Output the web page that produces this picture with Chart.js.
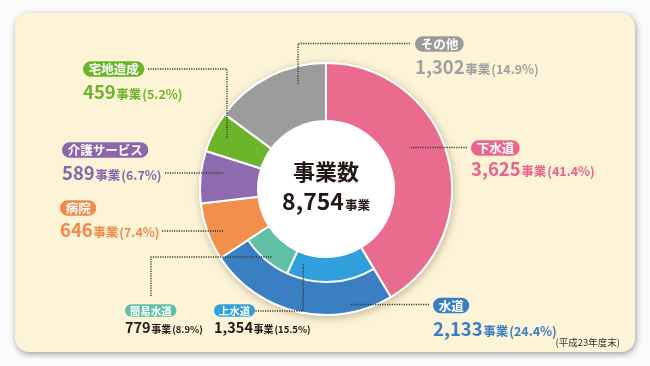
<!DOCTYPE html>
<html><head><meta charset="utf-8">
<script src="https://cdn.jsdelivr.net/npm/chart.js@4/dist/chart.umd.min.js"></script>
<style>
html,body{margin:0;padding:0;background:#fbfbfb;width:650px;height:366px;overflow:hidden;}
#panel{position:absolute;left:15px;top:13px;width:620px;height:339px;background:#fdf4d8;border-radius:14px;box-shadow:1px 2px 6px rgba(0,0,0,0.38);}
#wrap{position:absolute;left:0;top:0;width:650px;height:366px;}
</style></head><body>
<div id="panel"></div>
<div id="wrap"><canvas id="c" width="650" height="366"></canvas></div>
<script>
// ---- data ----
const categories = ['下水道', '水道', '病院', '介護サービス', '宅地造成', 'その他'];
const values = [3625, 2133, 646, 589, 459, 1302];
const waterCategories = ['上水道', '簡易水道'];
const waterValues = [1354, 779];
const centerTitle = '事業数';
const unitLabel = '事業';
const footnote = '(平成23年度末)';

// ---- styles ----
const outerColors = ['#e96c8e', '#3b7fc3', '#f0904b', '#8d6bae', '#6cb52b', '#9c9c9c'];
const waterColors = ['#2fa0dc', '#5fc0a6'];
const pillColors = ['#e9658b', '#3a7ec4', '#ef8a4a', '#8b67aa', '#6cb42a', '#9a9a9a'];
const valueColors = ['#e8628a', '#3a7ec4', '#ef8a47', '#8a65a9', '#6cb42a', '#a0a0a0'];
const FONT = '"Noto Sans CJK JP","Noto Sans",sans-serif';

const total = values.reduce((a, b) => a + b, 0);
const innerData = [values[0], ...waterValues, ...values.slice(2)];
const innerColors = ['rgba(0,0,0,0)', ...waterColors, ...values.slice(2).map(() => 'rgba(0,0,0,0)')];
const innerBorders = [0, ...waterValues.map(() => 2), ...values.slice(2).map(() => 0)];

// label layout: ring 0 = outer dataset, ring 1 = inner dataset
const labelLayout = [
  {ring: 0, idx: 0, name: categories[0], value: values[0], pill: pillColors[0], color: valueColors[0], px: 471, py: 148, vy: 169, big: true, lead: {x: 467, y: 147.5, type: 'h', t: 0.425, r: 94}},
  {ring: 0, idx: 1, name: categories[1], value: values[1], pill: pillColors[1], color: valueColors[1], px: 433, py: 305.5, vy: 329, big: true, lead: {x: 429, y: 304.5, type: 'h', t: 0.218, r: 117}},
  {ring: 0, idx: 2, name: categories[2], value: values[2], pill: pillColors[2], color: valueColors[2], px: 60, py: 208, vy: 230, big: true, lead: {x: 162, y: 231, type: 'h', t: 0.41, r: 111}},
  {ring: 0, idx: 3, name: categories[3], value: values[3], pill: pillColors[3], color: valueColors[3], px: 62, py: 150, vy: 173, big: true, lead: {x: 165, y: 173, type: 'h', t: 0.64, r: 104}},
  {ring: 0, idx: 4, name: categories[4], value: values[4], pill: pillColors[4], color: valueColors[4], px: 83, py: 69, vy: 91.5, big: true, lead: {x: 148, y: 69, type: 'hv', t: 0.49, r: 111}},
  {ring: 0, idx: 5, name: categories[5], value: values[5], pill: pillColors[5], color: valueColors[5], px: 415, py: 44, vy: 66.5, big: true, lead: {x: 410, y: 43.5, type: 'hv', t: 0.72, r: 108}},
  {ring: 1, idx: 1, name: waterCategories[0], value: waterValues[0], pill: waterColors[0], color: '#231815', px: 214, py: 310.5, vy: 327, big: false, lead: {x: 253, y: 311, type: 'hv', t: 0.86, r: 78}},
  {ring: 1, idx: 2, name: waterCategories[1], value: waterValues[1], pill: waterColors[1], color: '#231815', px: 125, py: 310.5, vy: 327, big: false, lead: {x: 151, y: 296, type: 'vh', t: 0.43, r: 87}}
];

function font(size, w) { return (w || 700) + ' ' + size + 'px ' + FONT; }
function fmt(n) { return n.toLocaleString('en-US'); }
function pct(n) { return (n / total * 100).toFixed(1); }

function roundRect(ctx, x, y, w, h, r) {
  ctx.beginPath();
  ctx.moveTo(x + r, y);
  ctx.lineTo(x + w - r, y);
  ctx.arc(x + w - r, y + r, r, -Math.PI / 2, Math.PI / 2);
  ctx.lineTo(x + r, y + h);
  ctx.arc(x + r, y + r, r, Math.PI / 2, Math.PI * 1.5);
  ctx.closePath();
}

function drawPill(ctx, x, cy, text, size, h, color) {
  ctx.font = font(size);
  const pad = size * 0.45;
  const w = ctx.measureText(text).width + pad * 2;
  ctx.fillStyle = color;
  roundRect(ctx, x, cy - h / 2, w, h, h / 2);
  ctx.fill();
  ctx.fillStyle = '#fff';
  ctx.textAlign = 'left';
  ctx.textBaseline = 'middle';
  ctx.fillText(text, x + pad, cy + 0.5);
  return w;
}

function drawRuns(ctx, x, base, runs) {
  ctx.textAlign = 'left';
  ctx.textBaseline = 'alphabetic';
  for (const r of runs) {
    x += r.dx || 0;
    ctx.font = font(r.size);
    ctx.fillStyle = r.color;
    ctx.fillText(r.text, x, base);
    x += ctx.measureText(r.text).width;
  }
  return x;
}

const donutShadow = {
  id: 'donutShadow',
  beforeDatasetsDraw(chart) {
    const arc = chart.getDatasetMeta(0).data[0];
    if (!arc) return;
    const ctx = chart.ctx;
    ctx.save();
    ctx.shadowColor = 'rgba(80,60,20,0.35)';
    ctx.shadowBlur = 8;
    ctx.shadowOffsetX = 1;
    ctx.shadowOffsetY = 2;
    ctx.fillStyle = '#ffffff';
    ctx.beginPath();
    ctx.arc(arc.x, arc.y, arc.outerRadius + 1, 0, Math.PI * 2);
    ctx.fill();
    ctx.restore();
  }
};

const annotations = {
  id: 'annotations',
  afterDatasetsDraw(chart) {
    const ctx = chart.ctx;
    const c0 = chart.getDatasetMeta(0).data[0];
    ctx.save();
    // centre text
    ctx.fillStyle = '#231815';
    ctx.textAlign = 'center';
    ctx.textBaseline = 'middle';
    ctx.font = font(22);
    ctx.fillText(centerTitle, c0.x, c0.y - 17);
    const totalRuns = [{text: fmt(total), size: 23, color: '#231815'}, {text: unitLabel, size: 12.5, color: '#231815', dx: 1}];
    let tw = 0;
    for (const r of totalRuns) { ctx.font = font(r.size); tw += ctx.measureText(r.text).width + (r.dx || 0); }
    drawRuns(ctx, c0.x - tw / 2, c0.y + 21, totalRuns);

    // leaders
    ctx.strokeStyle = '#3a3a3a';
    ctx.lineWidth = 1.4;
    ctx.setLineDash([1.2, 1.2]);
    for (const L of labelLayout) {
      const el = chart.getDatasetMeta(L.ring).data[L.idx];
      const a = el.startAngle + L.lead.t * (el.endAngle - el.startAngle);
      const ex = el.x + Math.cos(a) * L.lead.r;
      const ey = el.y + Math.sin(a) * L.lead.r;
      ctx.beginPath();
      ctx.moveTo(L.lead.x, L.lead.y);
      if (L.lead.type === 'h') {
        ctx.lineTo(ex, L.lead.y);
      } else if (L.lead.type === 'hv') {
        ctx.lineTo(ex, L.lead.y);
        ctx.lineTo(ex, ey);
      } else {
        ctx.lineTo(L.lead.x, ey);
        ctx.lineTo(ex, ey);
      }
      ctx.stroke();
    }
    ctx.setLineDash([]);

    // labels
    for (const L of labelLayout) {
      if (L.big) {
        drawPill(ctx, L.px, L.py, L.name, 12.5, 15.5, L.pill);
        drawRuns(ctx, L.px, L.vy + 7, [
          {text: fmt(L.value), size: 18.5, color: L.color},
          {text: unitLabel, size: 12.5, color: L.color, dx: 0.5},
          {text: '(' + pct(L.value) + '%)', size: 12.5, color: L.color, dx: 1}
        ]);
      } else {
        drawPill(ctx, L.px, L.py, L.name, 10.5, 12.5, L.pill);
        drawRuns(ctx, L.px, L.vy + 5.5, [
          {text: fmt(L.value), size: 14.5, color: L.color},
          {text: unitLabel, size: 10, color: L.color, dx: 0.5},
          {text: '(' + pct(L.value) + '%)', size: 9.5, color: L.color, dx: 1}
        ]);
      }
    }

    // footnote
    ctx.font = font(9.5, 400);
    ctx.fillStyle = '#333';
    ctx.textAlign = 'right';
    ctx.textBaseline = 'middle';
    ctx.fillText(footnote, 620, 342);
    ctx.restore();
  }
};

new Chart(document.getElementById('c'), {
  type: 'doughnut',
  data: {
    labels: categories,
    datasets: [
      {data: values, backgroundColor: outerColors, borderColor: '#ffffff', borderWidth: 2,
       radius: 126, cutout: (10 / 126 * 100) + '%', weight: 1, order: 2},
      {data: innerData, backgroundColor: innerColors, borderColor: '#ffffff', borderWidth: innerBorders,
       radius: 118, cutout: (68 / 118 * 100) + '%', weight: 1, order: 1}
    ]
  },
  options: {
    responsive: false,
    animation: false,
    events: [],
    layout: {padding: {left: 62, right: 60, top: 62, bottom: 50}},
    plugins: {legend: {display: false}, tooltip: {enabled: false}}
  },
  plugins: [donutShadow, annotations]
});
</script>
</body></html>
